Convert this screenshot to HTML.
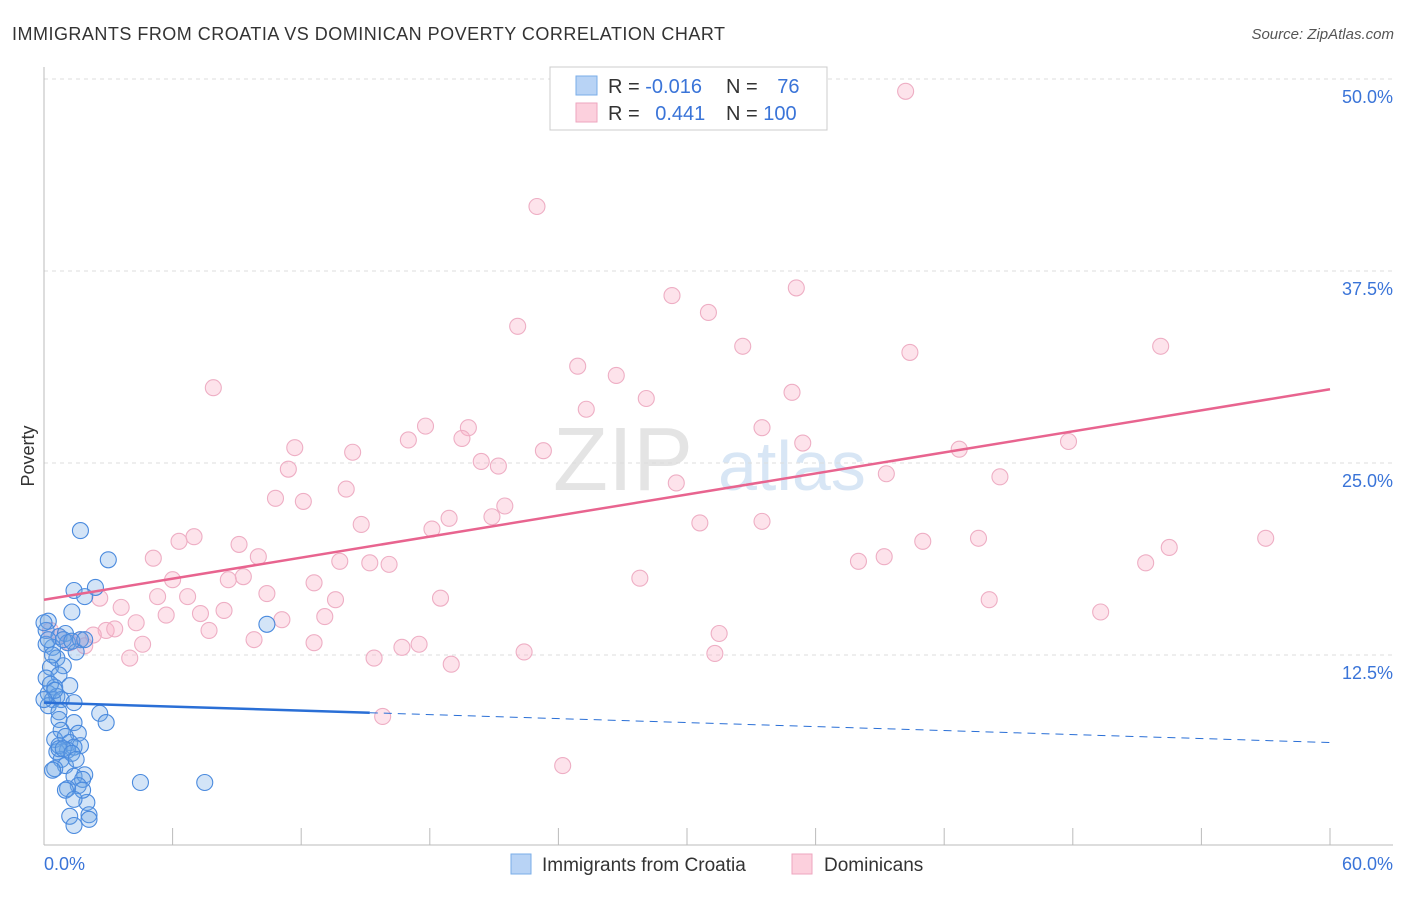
<!DOCTYPE html>
<html><head><meta charset="utf-8"><style>
body{margin:0;background:#fff;font-family:"Liberation Sans",sans-serif;}
svg text{font-family:"Liberation Sans",sans-serif;}
</style></head><body>
<svg id="c" width="1406" height="892">
<text x="12" y="40" font-size="18" fill="#333" textLength="713">IMMIGRANTS FROM CROATIA VS DOMINICAN POVERTY CORRELATION CHART</text>
<text x="1394" y="39" font-size="15" fill="#555" font-style="italic" text-anchor="end">Source: ZipAtlas.com</text>
<text x="34" y="456" font-size="18" fill="#333" transform="rotate(-90 34 456)" text-anchor="middle">Poverty</text>
<text x="553" y="490" font-size="90" fill="#e4e4e4" font-family="Liberation Serif">ZIP</text>
<text x="718" y="490" font-size="70" fill="#d8e6f5">atlas</text>
<g id="grid"></g><g id="pts"></g><g id="trend"></g>
<g>
<rect x="550" y="67" width="277" height="63" fill="#fff" stroke="#ccc"/>
<rect x="576" y="76" width="21" height="19" fill="#b8d3f5" stroke="#7aaee8"/>
<rect x="576" y="103" width="21" height="19" fill="#fcd0dd" stroke="#eea6bf"/>
<text x="608" y="93" font-size="20" fill="#333">R = <tspan fill="#3a74d8">-0.016</tspan></text>
<text x="726" y="93" font-size="20" fill="#333">N = <tspan fill="#3a74d8" dx="14">76</tspan></text>
<text x="608" y="120" font-size="20" fill="#333">R = <tspan fill="#3a74d8" dx="10">0.441</tspan></text>
<text x="726" y="120" font-size="20" fill="#333">N = <tspan fill="#3a74d8">100</tspan></text>
</g>
<g>
<rect x="511" y="854" width="20" height="20" fill="#b8d3f5" stroke="#7aaee8"/>
<text x="542" y="871" font-size="19" fill="#333">Immigrants from Croatia</text>
<rect x="792" y="854" width="20" height="20" fill="#fcd0dd" stroke="#eea6bf"/>
<text x="824" y="871" font-size="19" fill="#333">Dominicans</text>
</g>
</svg>
<script>
const xTicks=[0,6,12,18,24,30,36,42,48,54,60];
const yTicks=[12.5,25,37.5,50];
const yTickLabels=["12.5%","25.0%","37.5%","50.0%"];
const xEndLabels=["0.0%","60.0%"];
const croatiaX=[1.7,3.0,1.4,2.4,1.9,1.3,0.2,0.1,0.7,1.0,1.1,1.7,1.5,0.4,0.6,0.9,0.3,0.1,0.7,0.5,1.2,0.2,0.4,0.6,0.8,1.4,0.2,0.7,2.6,2.9,0.7,1.4,0.8,1.6,0.5,1.0,1.2,1.7,0.6,1.1,1.4,0.8,1.0,0.5,1.4,1.9,1.8,1.6,1.1,2.0,2.1,1.2,2.1,1.4,4.5,7.5,10.4,0.0,0.1,0.3,0.5,0.0,0.7,0.7,0.9,1.3,1.5,0.4,1.0,1.8,1.4,0.2,0.4,0.9,1.3,1.9];
const croatiaY=[20.6,18.7,16.7,16.9,16.3,15.3,14.7,14.1,13.7,13.9,13.3,13.5,12.7,13.0,12.3,11.8,11.7,11.0,11.2,10.4,10.5,10.0,9.6,9.8,9.6,9.4,9.2,8.8,8.7,8.1,8.3,8.1,7.6,7.4,7.0,7.2,6.8,6.6,6.2,6.3,6.5,5.7,5.3,5.1,4.6,4.7,4.4,4.0,3.8,2.9,2.1,2.0,1.8,1.4,4.2,4.2,14.5,14.6,13.2,10.6,10.2,9.6,6.6,6.4,6.4,6.1,5.7,5.0,3.7,3.7,3.1,13.5,12.5,13.5,13.4,13.5];
const domX=[40.2,23.0,29.3,35.1,31.0,22.1,32.6,40.4,52.1,24.9,26.7,7.9,34.9,28.1,25.3,17.8,33.5,19.8,17.0,19.5,11.7,35.4,23.3,14.4,42.7,47.8,20.4,21.2,11.4,29.5,39.3,44.6,14.1,10.8,12.1,21.5,20.9,18.9,18.1,14.8,30.6,33.5,7.0,6.3,9.1,41.0,43.6,57.0,52.5,5.1,10.0,39.2,38.0,13.8,15.2,16.1,6.0,9.3,8.6,27.8,51.4,12.6,2.6,5.3,6.7,10.4,13.6,18.5,44.1,3.6,8.4,7.3,5.7,13.1,11.1,49.3,4.3,2.9,3.3,7.7,31.5,2.3,4.6,12.6,9.8,16.7,17.5,1.7,1.2,22.4,31.3,4.0,15.4,19.0,15.8,24.2,0.7,0.3,1.9];
const domY=[49.2,41.7,35.9,36.4,34.8,33.9,32.6,32.2,32.6,31.3,30.7,29.9,29.6,29.2,28.5,27.4,27.3,27.3,26.5,26.6,26.0,26.3,25.8,25.7,25.9,26.4,25.1,24.8,24.6,23.7,24.3,24.1,23.3,22.7,22.5,22.2,21.5,21.4,20.7,21.0,21.1,21.2,20.2,19.9,19.7,19.9,20.1,20.1,19.5,18.8,18.9,18.9,18.6,18.6,18.5,18.4,17.4,17.6,17.4,17.5,18.5,17.2,16.2,16.3,16.3,16.5,16.1,16.2,16.1,15.6,15.4,15.2,15.1,15.0,14.8,15.3,14.6,14.1,14.2,14.1,13.9,13.8,13.2,13.3,13.5,13.0,13.2,13.5,13.3,12.7,12.6,12.3,12.3,11.9,8.5,5.3,13.7,14.1,13.1];
const domTrend=[16.1,29.8];
const croatiaTrend=[9.4,6.8];
const croatiaSolidEnd=15.2;
const NS='http://www.w3.org/2000/svg';
const X=v=>44+v*(1286/60), Y=v=>847-v*(192/12.5);
function mk(p,t,a){const e=document.createElementNS(NS,t);for(const k in a)e.setAttribute(k,a[k]);p.appendChild(e);return e;}
const grid=document.getElementById('grid');
yTicks.forEach((t,i)=>{
 const l=mk(grid,'line',{x1:44,x2:1393,y1:Y(t),y2:Y(t),stroke:'#ddd','stroke-dasharray':'4,4'});
 
 
 const tx=mk(grid,'text',{x:1393,y:Y(t)+24,'font-size':18,fill:'#3a74d8','text-anchor':'end'});tx.textContent=yTickLabels[i];
 
 
});
mk(grid,'line',{x1:44,x2:44,y1:67,y2:845,stroke:'#bbb'});
mk(grid,'line',{x1:44,x2:1393,y1:845,y2:845,stroke:'#bbb'});
xTicks.forEach(t=>{const l=mk(grid,'line',{x1:X(t),x2:X(t),y1:828,y2:845,stroke:'#bbb'});
 
 });
const xl0=mk(grid,'text',{x:44,y:870,'font-size':18,fill:'#3a74d8'});xl0.textContent=xEndLabels[0];


const xl1=mk(grid,'text',{x:1393,y:870,'font-size':18,fill:'#3a74d8','text-anchor':'end'});xl1.textContent=xEndLabels[1];


const pts=document.getElementById('pts');
domX.forEach((v,i)=>{const c=mk(pts,'circle',{cx:X(v),cy:Y(domY[i]),r:8,fill:'rgba(248,175,198,0.35)',stroke:'#eeaec4','stroke-width':1.1});
 
 });
croatiaX.forEach((v,i)=>{const c=mk(pts,'circle',{cx:X(v),cy:Y(croatiaY[i]),r:8,fill:'rgba(110,165,230,0.3)',stroke:'#4a8ade','stroke-width':1.1});
 
 });
const tr=document.getElementById('trend');
const pl=mk(tr,'line',{x1:X(0),y1:Y(domTrend[0]),x2:X(60),y2:Y(domTrend[1]),stroke:'#e8648f','stroke-width':2.5});


const cy=x=>croatiaTrend[0]+(croatiaTrend[1]-croatiaTrend[0])*x/60;
const bl=mk(tr,'line',{x1:X(0),y1:Y(cy(0)),x2:X(croatiaSolidEnd),y2:Y(cy(croatiaSolidEnd)),stroke:'#2a6fd6','stroke-width':2.5});


const bd=mk(tr,'line',{x1:X(croatiaSolidEnd),y1:Y(cy(croatiaSolidEnd)),x2:X(60),y2:Y(cy(60)),stroke:'#2a6fd6','stroke-width':1,'stroke-dasharray':'8,6'});


</script>
</body></html>
